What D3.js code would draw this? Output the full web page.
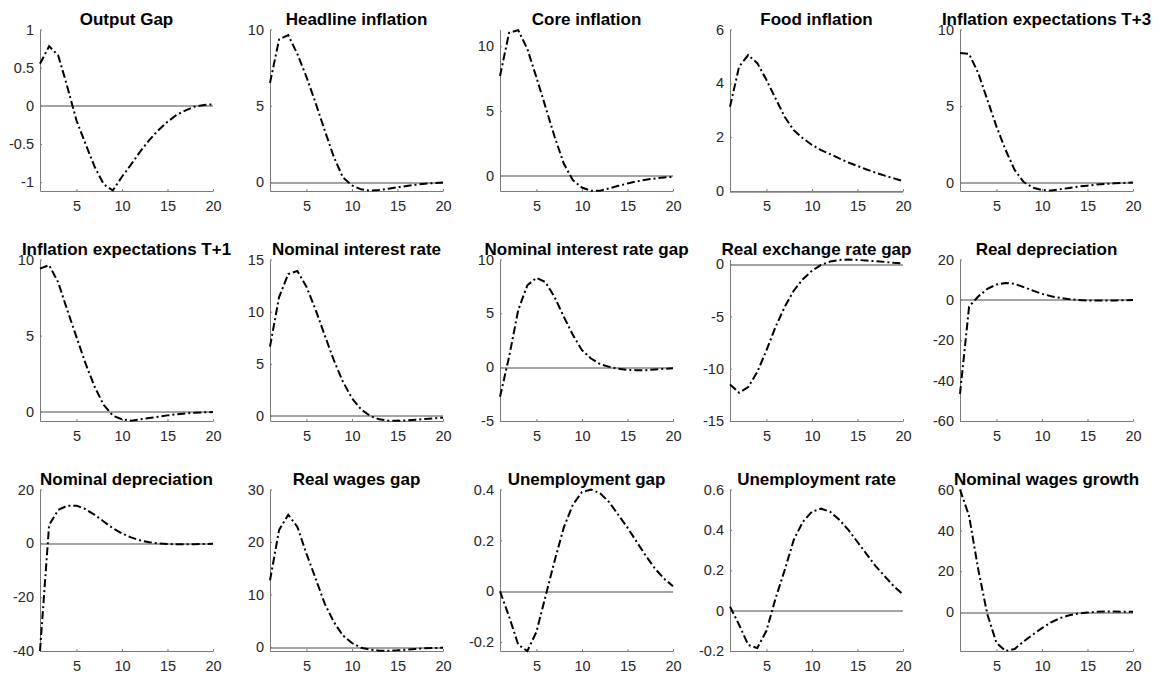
<!DOCTYPE html>
<html>
<head>
<meta charset="utf-8">
<script src="https://cdn.jsdelivr.net/npm/d3@7"></script>
<style>
  body { margin: 0; background: #fff; }
  text { font-family: "Liberation Sans", Arial, Helvetica, sans-serif; }
</style>
</head>
<body>
<div id="chart"></div>
<script>
// Horizon (quarters 1..20)
var horizon = d3.range(1, 21);
var xTicks = [5, 10, 15, 20];

// Impulse responses
var outputGap = [0.55, 0.78, 0.66, 0.25, -0.19, -0.5, -0.8, -1.03, -1.11, -0.93, -0.77, -0.6, -0.45, -0.32, -0.21, -0.12, -0.06, -0.01, 0.01, 0.02];
var headlineInflation = [6.5, 9.35, 9.63, 8.4, 6.9, 5.2, 3.4, 1.66, 0.3, -0.22, -0.48, -0.57, -0.52, -0.44, -0.35, -0.26, -0.18, -0.11, -0.07, -0.03];
var coreInflation = [7.7, 11.05, 11.25, 9.8, 7.6, 5.3, 3.0, 0.93, -0.36, -0.93, -1.18, -1.18, -1.0, -0.8, -0.62, -0.46, -0.33, -0.23, -0.15, -0.1];
var foodInflation = [3.13, 4.62, 5.05, 4.75, 4.13, 3.44, 2.76, 2.26, 1.96, 1.71, 1.52, 1.37, 1.21, 1.06, 0.93, 0.8, 0.68, 0.57, 0.47, 0.37];
var expectationsT3 = [8.47, 8.4, 7.16, 5.42, 3.67, 2.14, 0.83, 0.03, -0.33, -0.48, -0.52, -0.44, -0.35, -0.26, -0.2, -0.13, -0.09, -0.04, -0.02, 0];
var expectationsT1 = [9.4, 9.63, 8.5, 6.67, 4.92, 3.17, 1.64, 0.44, -0.26, -0.5, -0.59, -0.5, -0.42, -0.33, -0.24, -0.17, -0.11, -0.07, -0.04, -0.02];
var nominalRate = [6.65, 11.4, 13.6, 13.9, 12.4, 10.2, 7.76, 5.37, 3.3, 1.7, 0.64, 0, -0.32, -0.45, -0.46, -0.42, -0.35, -0.29, -0.22, -0.16];
var nominalRateGap = [-2.75, 0.96, 5.3, 7.6, 8.3, 7.9, 6.5, 4.7, 3.0, 1.58, 0.8, 0.28, 0.03, -0.15, -0.25, -0.28, -0.28, -0.22, -0.15, -0.1];
var realExchangeGap = [-11.5, -12.3, -11.75, -10.3, -8.25, -6.0, -4.1, -2.54, -1.43, -0.63, -0.06, 0.25, 0.41, 0.44, 0.41, 0.35, 0.29, 0.22, 0.13, 0.06];
var realDepreciation = [-46.6, -3.3, 1.65, 5.45, 7.6, 8.4, 7.9, 6.3, 4.6, 3.0, 1.8, 1.0, 0.3, 0, -0.3, -0.35, -0.3, -0.25, -0.15, -0.1];
var nominalDepreciation = [-40, 6.8, 12.4, 14.0, 14.0, 12.7, 10.6, 8.1, 5.6, 3.7, 2.2, 1.1, 0.4, 0, -0.25, -0.35, -0.35, -0.3, -0.25, -0.2];
var realWagesGap = [12.7, 22.3, 25.2, 22.9, 17.8, 13.1, 8.3, 4.8, 2.2, 0.76, -0.13, -0.5, -0.7, -0.7, -0.64, -0.5, -0.38, -0.25, -0.19, -0.13];
var unemploymentGap = [0, -0.1, -0.21, -0.235, -0.16, -0.02, 0.12, 0.25, 0.34, 0.39, 0.4, 0.385, 0.35, 0.3, 0.25, 0.195, 0.14, 0.09, 0.05, 0.02];
var unemploymentRate = [0.02, -0.07, -0.17, -0.185, -0.1, 0.06, 0.2, 0.35, 0.44, 0.49, 0.505, 0.49, 0.45, 0.4, 0.34, 0.28, 0.22, 0.17, 0.12, 0.08];
var nominalWagesGrowth = [60, 47, 21, -1, -15, -19, -18, -14.3, -11, -7.8, -5, -2.9, -1.5, -0.65, -0.16, 0.16, 0.3, 0.3, 0.2, 0.15];

var titles = ["Output Gap", "Headline inflation", "Core inflation", "Food inflation", "Inflation expectations T+3",
  "Inflation expectations T+1", "Nominal interest rate", "Nominal interest rate gap", "Real exchange rate gap", "Real depreciation",
  "Nominal depreciation", "Real wages gap", "Unemployment gap", "Unemployment rate", "Nominal wages growth"];

var series = [outputGap, headlineInflation, coreInflation, foodInflation, expectationsT3,
  expectationsT1, nominalRate, nominalRateGap, realExchangeGap, realDepreciation,
  nominalDepreciation, realWagesGap, unemploymentGap, unemploymentRate, nominalWagesGrowth];

var yLimits = [[-1.117, 1], [-0.59, 10], [-1.2, 11.3], [0, 6], [-0.55, 10],
  [-0.61, 10], [-0.48, 15], [-5, 10], [-15, 0.45], [-60, 20],
  [-40, 20], [-0.76, 30], [-0.235, 0.4], [-0.2, 0.6], [-19, 60]];

var yTicks = [[-1, -0.5, 0, 0.5, 1], [0, 5, 10], [0, 5, 10], [0, 2, 4, 6], [0, 5, 10],
  [0, 5, 10], [0, 5, 10, 15], [-5, 0, 5, 10], [-15, -10, -5, 0], [-60, -40, -20, 0, 20],
  [-40, -20, 0, 20], [0, 10, 20, 30], [-0.2, 0, 0.2, 0.4], [-0.2, 0, 0.2, 0.4, 0.6], [0, 20, 40, 60]];

//Width and height
var w = 1159;
var h = 675;
var plotW = 173;
var plotH = 161.5;

var svg = d3.select("#chart")
  .append("svg")
  .attr("width", w)
  .attr("height", h);

// plain hyphen minus like MATLAB
var fmt = function(d) { return String(d); };

series.forEach(function(values, i) {
  var col = i % 5;
  var row = Math.floor(i / 5);
  var left = 40 + col * 230;
  var top = 29.5 + row * 230;

  var x = d3.scaleLinear().domain([1, 20]).range([0, plotW]);
  var y = d3.scaleLinear().domain(yLimits[i]).range([plotH, 0]);

  var g = svg.append("g")
    .attr("transform", "translate(" + left + "," + top + ")");

  // zero reference line
  g.append("line")
    .attr("x1", x(1))
    .attr("x2", x(20))
    .attr("y1", Math.round(y(0)) + 0.5)
    .attr("y2", Math.round(y(0)) + 0.5)
    .style("stroke", "#1a1a1a")
    .style("stroke-width", 0.8);

  // axes, MATLAB style: box off, ticks pointing in
  var xAxis = g.append("g")
    .attr("transform", "translate(0," + plotH + ")")
    .call(d3.axisBottom(x).tickValues(xTicks).tickSizeInner(-2).tickSizeOuter(0).tickPadding(10).tickFormat(fmt));

  var yAxis = g.append("g")
    .call(d3.axisLeft(y).tickValues(yTicks[i]).tickSizeInner(-2).tickSizeOuter(0).tickPadding(6).tickFormat(fmt));

  [xAxis, yAxis].forEach(function(a) {
    a.select(".domain").style("stroke", "#7a7a7a");
    a.selectAll(".tick line").style("stroke", "#7a7a7a");
    a.selectAll(".tick text")
      .style("fill", "#262626")
      .style("font-size", "14.5px");
  });

  // response line
  var line = d3.line()
    .x(function(d, k) { return x(horizon[k]); })
    .y(function(d) { return y(d); });

  g.append("path")
    .datum(values)
    .attr("d", line)
    .style("fill", "none")
    .style("stroke", "#000")
    .style("stroke-width", 2)
    .style("stroke-dasharray", "8,3,2,3");

  // title
  g.append("text")
    .attr("x", plotW / 2)
    .attr("y", -5)
    .attr("text-anchor", "middle")
    .style("font-size", "17px")
    .style("font-weight", "bold")
    .style("fill", "#000")
    .text(titles[i]);
});
</script>
</body>
</html>
